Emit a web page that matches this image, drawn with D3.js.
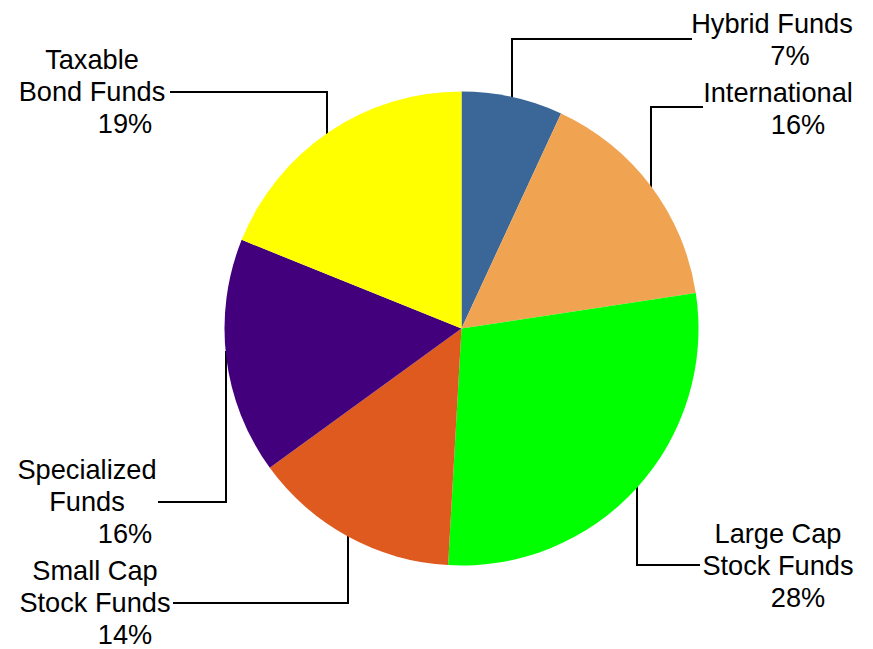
<!DOCTYPE html>
<html>
<head>
<meta charset="utf-8">
<script src="https://cdn.jsdelivr.net/npm/d3@7"></script>
<style>
  html, body { margin: 0; padding: 0; background: #fff; }
  svg { display: block; }
  text { font-family: "Liberation Sans", Arial, sans-serif; font-size: 27.2px; fill: #000; }
</style>
</head>
<body>
<svg id="chart" width="873" height="649"></svg>
<script>
// Data
const categories = ["Hybrid Funds", "International", "Large Cap Stock Funds", "Small Cap Stock Funds", "Specialized Funds", "Taxable Bond Funds"];
const labelLines = [["Hybrid Funds"], ["International"], ["Large Cap", "Stock Funds"], ["Small Cap", "Stock Funds"], ["Specialized", "Funds"], ["Taxable", "Bond Funds"]];
const values = [6.9, 15.7, 28.3, 14.1, 16.1, 18.9];
const colors = ["#3A6797", "#F0A452", "#00FF00", "#DF5A1F", "#43007C", "#FFFF00"];

// Layout (label anchor: text centre x, first baseline y, percent centre x; leader x and elbow y)
const labelLayout = [
  { cx: 772, y: 33, pcx: 790, lx: 512, ly: 39, tx: 692 },
  { cx: 778, y: 102, pcx: 798, lx: 651, ly: 107, tx: 703 },
  { cx: 778, y: 543, pcx: 798, lx: 637, ly: 565, tx: 700 },
  { cx: 95, y: 580, pcx: 125, lx: 348, ly: 603, tx: 173 },
  { cx: 87, y: 479, pcx: 125, lx: 226, ly: 502, tx: 158 },
  { cx: 92, y: 69, pcx: 125, lx: 327, ly: 92, tx: 170 }
];
const lineH = 32;

const svg = d3.select("#chart");
const cx = 461.5, cy = 328.5, r = 237;
const total = d3.sum(values);

const pie = d3.pie().sort(null).value(d => d);
const arcs = pie(values);
const arc = d3.arc().innerRadius(0).outerRadius(r);

// Leader lines (drawn beneath the pie, starting inside its edge)
arcs.forEach((a, i) => {
  const L = labelLayout[i];
  const dx = L.lx - cx;
  const mid = (a.startAngle + a.endAngle) / 2;
  const upper = Math.cos(mid) > 0;
  const dy = Math.sqrt(Math.max(0, r * r - dx * dx));
  const y0 = cy + (upper ? -dy + 4 : dy - 4);
  svg.append("path")
    .attr("d", `M${L.lx},${y0}L${L.lx},${L.ly}L${L.tx},${L.ly}`)
    .attr("fill", "none")
    .attr("stroke", "#000")
    .attr("stroke-width", 2);
});

const g = svg.append("g").attr("transform", `translate(${cx},${cy})`);
g.selectAll("path").data(arcs).join("path")
  .attr("d", arc)
  .attr("fill", (d, i) => colors[i]);

// Labels
arcs.forEach((a, i) => {
  const L = labelLayout[i];
  const lines = labelLines[i];
  lines.forEach((t, k) => {
    svg.append("text")
      .attr("x", L.cx).attr("y", L.y + k * lineH)
      .attr("text-anchor", "middle")
      .text(t);
  });
  svg.append("text")
    .attr("x", L.pcx).attr("y", L.y + lines.length * lineH)
    .attr("text-anchor", "middle")
    .text(Math.round(values[i] / total * 100) + "%");
});
</script>
</body>
</html>
